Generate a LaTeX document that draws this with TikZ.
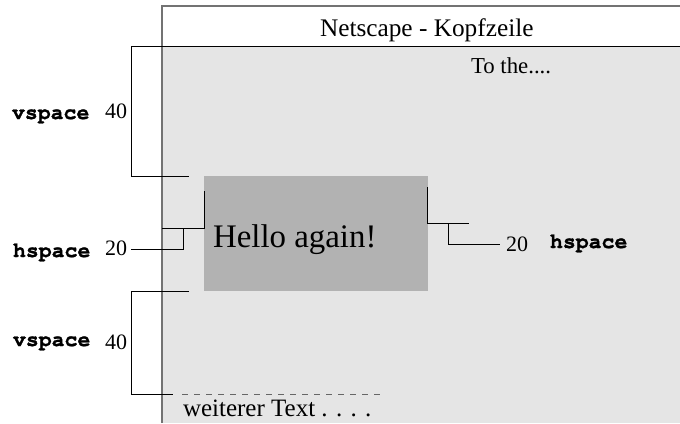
\documentclass[tikz,border=0pt]{standalone}
\usepackage{fontspec}
\setmainfont{Liberation Serif}
\setmonofont[BoldFeatures={FakeBold=1.2}]{TeX Gyre Cursor}
\begin{document}
\begin{tikzpicture}[x=1pt,y=-1pt,
  txt/.style={anchor=base west,inner sep=0pt,outer sep=0pt},
  mono/.style={txt,font=\fontsize{21.5}{24}\selectfont\ttfamily\bfseries},
  num/.style={txt,font=\fontsize{22}{24}\selectfont},
  bracket/.style={draw=black,line width=0.9pt},
  frame/.style={draw=black!55,line width=1.2pt}]
\useasboundingbox (0,0) rectangle (680,423);
% window
\fill[white] (162,6) rectangle (680,46);
\fill[black!10] (162,46) rectangle (680,423);
\fill[black!30] (204,176) rectangle (428,291);
\draw[frame] (162,423) -- (162,6) -- (680,6);
% header text
\node[txt,font=\fontsize{25.3}{28}\selectfont] (head) at (320,36) {Netscape - Kopfzeile};
\node[txt,font=\fontsize{22.8}{26}\selectfont] (tothe) at (471,73) {To the....};
\node[txt,font=\fontsize{32.9}{36}\selectfont] (hello) at (213,247) {Hello again!};
\node[txt,font=\fontsize{25}{28}\selectfont] (weiter) at (183,416) {weiterer Text . . . .};
% upper vspace bracket (joins header line)
\draw[bracket] (680,46) -- (131,46) -- (131,176) -- (189,176);
\node[mono] (v1) at (12,119) {vspace};
\node[num] (n1) at (105,118) {40};
% left hspace
\draw[bracket] (204,191) -- (204,228) -- (162,228);
\draw[bracket] (183,228) -- (183,249) -- (131,249);
\node[mono] (h1) at (13,257) {hspace};
\node[num] (n2) at (105,255) {20};
% right hspace
\draw[bracket] (427,187) -- (427,223) -- (469,223);
\draw[bracket] (448,223) -- (448,244) -- (500,244);
\node[num] (n3) at (506,251) {20};
\node[mono] (h2) at (550,248) {hspace};
% lower vspace
\draw[bracket] (189,291) -- (131,291) -- (131,394) -- (173,394);
\node[mono] (v2) at (13,346) {vspace};
\node[num] (n4) at (105,349) {40};
\draw[draw=black!60,line width=0.9pt,dash pattern=on 6pt off 6pt] (182,394) -- (385,394);
\end{tikzpicture}
\end{document}
